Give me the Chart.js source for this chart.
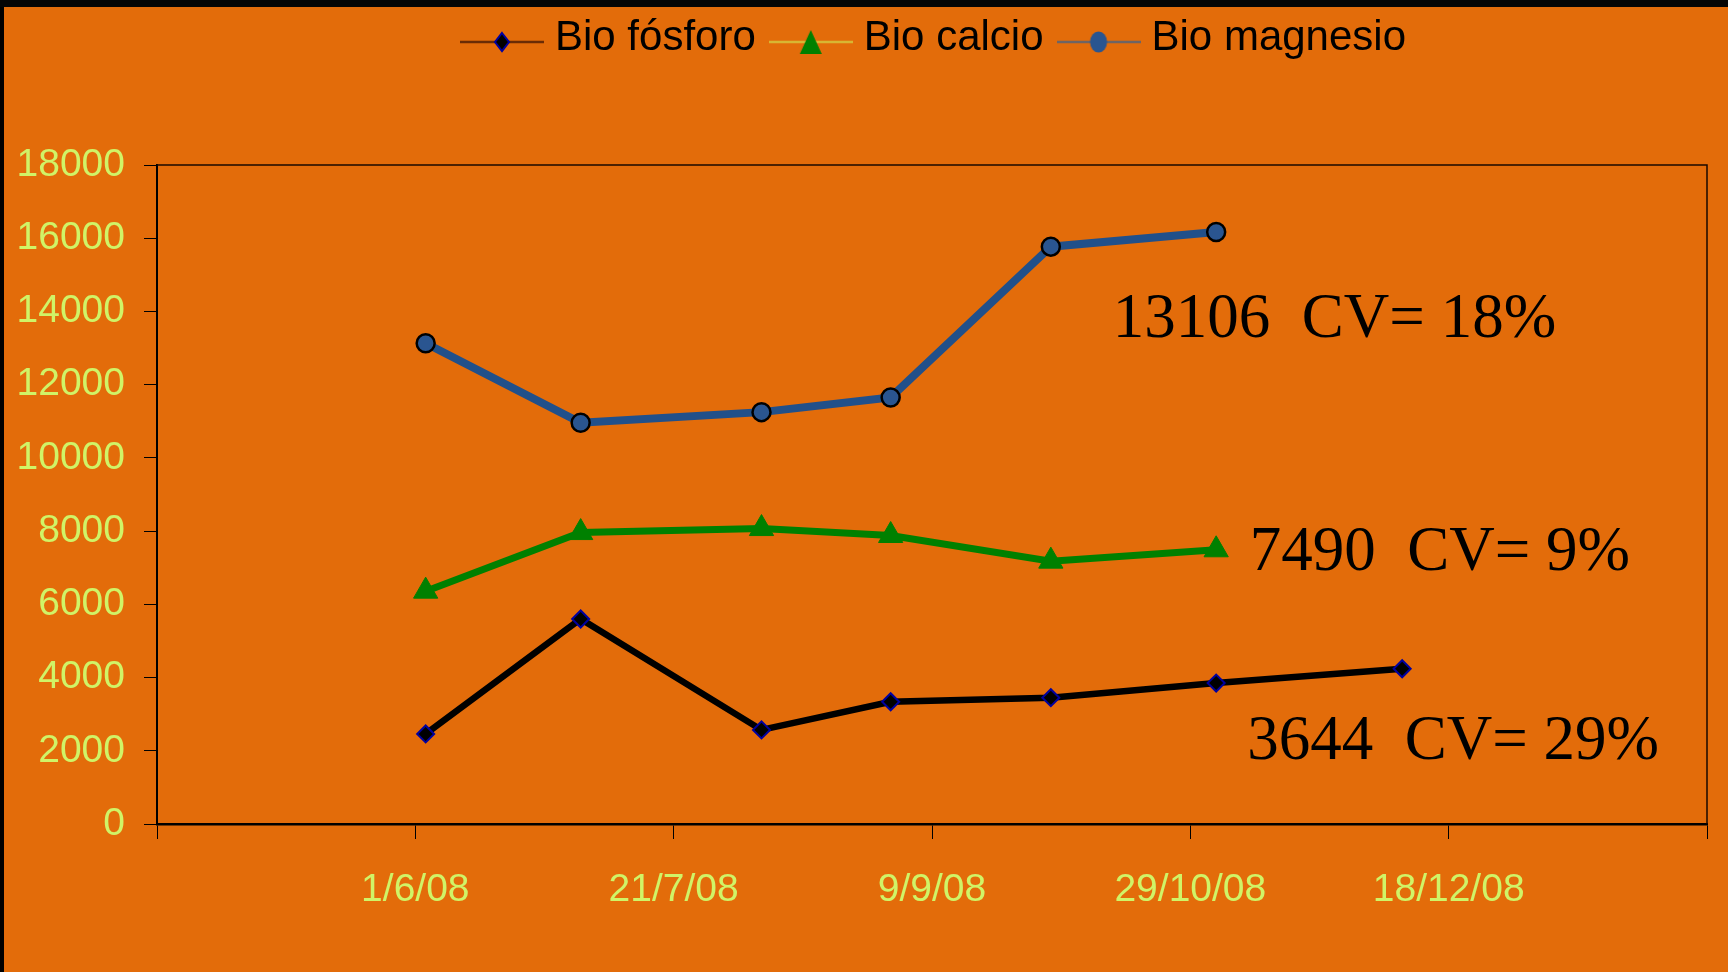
<!DOCTYPE html>
<html>
<head>
<meta charset="utf-8">
<title>Bio fósforo, calcio y magnesio</title>
<script src="https://cdn.jsdelivr.net/npm/chart.js@4.4.1/dist/chart.umd.min.js"></script>
<style>
  html, body { margin: 0; background: #000; overflow: hidden; }
  #wrap { position: absolute; left: 4px; top: 0; width: 1724px; height: 972px; background: #e36c0a; }
  #franja { position: absolute; left: 0; top: 0; width: 1728px; height: 7px; background: #050505; }
</style>
</head>
<body>
<div id="wrap"><canvas id="grafico"></canvas></div>
<div id="franja"></div>
<script>
// ----------- Datos ----------- //
const fechas = ['3/6/08', '3/7/08', '7/8/08', '1/9/08', '2/10/08', '3/11/08', '9/12/08'];
const fosforo = [2460, 5600, 2570, 3340, 3450, 3850, 4240];
const calcio = [6360, 7960, 8070, 7880, 7180, 7490];
const magnesio = [13130, 10960, 11250, 11650, 15770, 16170];
const notas = ['13106  CV= 18%', '7490  CV= 9%', '3644  CV= 29%'];

const VERDE_CLARO = '#d0f467';
Chart.defaults.font.family = '"Liberation Sans", Arial, sans-serif';

// el eje x va en días contados desde el 1/6/08, con marcas cada 50 días
const DIA0 = Date.UTC(2008, 5, 1);
const DIA = 86400000;
const aDia = s => {
    const [d, m, a] = s.split('/').map(Number);
    return Math.round((Date.UTC(2000 + a, m - 1, d) - DIA0) / DIA);
};
const aFecha = n => {
    const f = new Date(DIA0 + n * DIA);
    return `${f.getUTCDate()}/${f.getUTCMonth() + 1}/${String(f.getUTCFullYear()).slice(2)}`;
};
const serie = valores => valores.map((v, i) => ({ x: aDia(fechas[i]), y: v }));

// ----------- Leyenda: línea fina + marcador ----------- //
// la línea va algo por debajo del centro del texto
const muestra = (colorLinea, marcador) => {
    const c = document.createElement('canvas');
    c.width = 84; c.height = 44;
    const g = c.getContext('2d');
    g.translate(0, 26);
    g.strokeStyle = colorLinea;
    g.lineWidth = 2.5;
    g.beginPath(); g.moveTo(0, 0); g.lineTo(84, 0); g.stroke();
    marcador(g);
    return c;
};
const estilosLeyenda = [
    muestra('#6b2c05', g => {
        g.beginPath();
        g.moveTo(42, -9); g.lineTo(49, 0); g.lineTo(42, 9); g.lineTo(35, 0); g.closePath();
        g.fillStyle = '#000'; g.fill();
        g.strokeStyle = '#0000a0'; g.lineWidth = 2; g.stroke();
    }),
    muestra('#d8b632', g => {
        g.beginPath();
        g.moveTo(42, -12); g.lineTo(53, 12); g.lineTo(31, 12); g.closePath();
        g.fillStyle = '#008000'; g.fill();
    }),
    muestra('#6e6464', g => {
        g.beginPath();
        g.ellipse(42, 0, 8.5, 10.5, 0, 0, Math.PI * 2);
        g.fillStyle = '#2a5590'; g.fill();
    }),
];

// ----------- Plugins ----------- //
// la leyenda va un poco a la derecha del centro del área
const corrigeLeyenda = {
    id: 'corrigeLeyenda',
    afterLayout(chart) {
        chart.legend.left += 6;
        chart.legend.right += 6;
    }
};

// marco superior y derecho del área de trazado
const marco = {
    id: 'marco',
    beforeDatasetsDraw(chart) {
        const { ctx, chartArea: a } = chart;
        ctx.save();
        ctx.strokeStyle = '#1a0800';
        ctx.lineWidth = 1.5;
        ctx.beginPath();
        ctx.moveTo(a.left, a.top);
        ctx.lineTo(a.right, a.top);
        ctx.lineTo(a.right, a.bottom);
        ctx.stroke();
        ctx.restore();
    }
};

// medias y CV junto a cada serie (día, valor de la línea base)
const anclas = [
    { dia: 135, valor: 13310 },
    { dia: 161.5, valor: 6940 },
    { dia: 161, valor: 1775 },
];
const rotulos = {
    id: 'rotulos',
    afterDatasetsDraw(chart) {
        const { ctx, scales: { x, y } } = chart;
        ctx.save();
        ctx.font = '63px "Liberation Serif", "Times New Roman", serif';
        ctx.fillStyle = '#000';
        ctx.textBaseline = 'alphabetic';
        anclas.forEach((p, i) => ctx.fillText(notas[i], x.getPixelForValue(p.dia), y.getPixelForValue(p.valor)));
        ctx.restore();
    }
};

// ----------- Gráfico ----------- //
const chart = new Chart(document.getElementById('grafico'), {
    type: 'line',
    data: {
        datasets: [
            {
                label: 'Bio fósforo',
                data: serie(fosforo),
                borderColor: '#000',
                borderWidth: 6.5,
                pointStyle: 'rectRot',
                pointRadius: 8.5,
                pointBackgroundColor: '#000',
                pointBorderColor: '#0000a0',
                pointBorderWidth: 2,
            },
            {
                label: 'Bio calcio',
                data: serie(calcio),
                borderColor: '#008000',
                borderWidth: 7,
                pointStyle: 'triangle',
                pointRadius: 14,
                pointBackgroundColor: '#008000',
                pointBorderColor: '#008000',
                pointBorderWidth: 1,
            },
            {
                label: 'Bio magnesio',
                data: serie(magnesio),
                borderColor: '#21508a',
                borderWidth: 8,
                pointStyle: 'circle',
                pointRadius: 9,
                pointBackgroundColor: '#2a5590',
                pointBorderColor: '#000',
                pointBorderWidth: 2.5,
            },
        ]
    },
    options: {
        responsive: true,
        maintainAspectRatio: false,
        animation: false,
        layout: { padding: { left: 0, right: 21, top: -6, bottom: 61 } },
        elements: { line: { tension: 0 } },
        plugins: {
            tooltip: { enabled: false },
            legend: {
                position: 'top',
                fullSize: false,
                labels: {
                    usePointStyle: true,
                    pointStyleWidth: 64,
                    padding: 23,
                    color: '#000',
                    font: { size: 42 },
                    generateLabels: c => Chart.defaults.plugins.legend.labels.generateLabels(c)
                        .map((item, i) => ({ ...item, pointStyle: estilosLeyenda[i] })),
                }
            },
            // separador vacío entre la leyenda y el área de trazado
            title: {
                display: true,
                text: '',
                weight: 500,
                padding: 0,
                font: { size: 96, lineHeight: 1 },
            },
        },
        scales: {
            x: {
                type: 'linear',
                min: -50,
                max: 250,
                ticks: {
                    stepSize: 50,
                    autoSkip: false,
                    maxRotation: 0,
                    color: VERDE_CLARO,
                    font: { size: 39, lineHeight: 1.56 },
                    padding: 21,
                    callback: v => (v <= -50 || v >= 250) ? '' : aFecha(v),
                },
                grid: { drawOnChartArea: false, tickLength: 15, color: '#000' },
                border: { color: '#000', width: 2.5 },
                afterFit: s => { s.height = 87; },
            },
            y: {
                min: 0,
                max: 18000,
                ticks: {
                    stepSize: 2000,
                    color: VERDE_CLARO,
                    font: { size: 39 },
                    padding: 19,
                    callback: v => String(v),
                },
                grid: { drawOnChartArea: false, tickLength: 13, color: '#000' },
                border: { color: '#000', width: 2 },
                afterFit: s => { s.width = 153; },
            }
        }
    },
    plugins: [corrigeLeyenda, marco, rotulos]
});
</script>
</body>
</html>
